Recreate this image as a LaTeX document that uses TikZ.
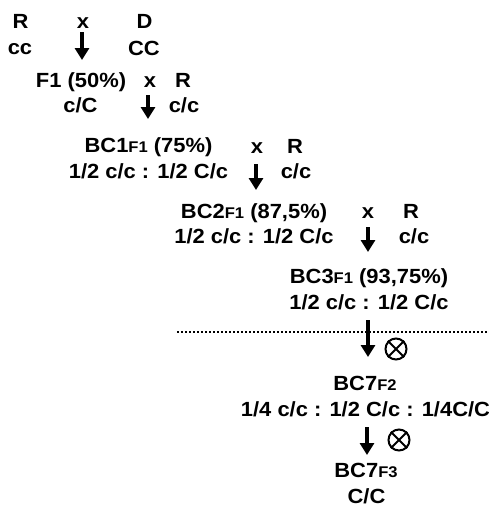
\documentclass[tikz,border=0pt]{standalone}
\usepackage{fontspec}
\setmainfont{Liberation Sans}[FakeStretch=1.07]
\usetikzlibrary{arrows.meta}
\newcommand{\subf}[1]{{\fontsize{15.5}{18}\selectfont #1}}
\tikzset{
  lbl/.style={inner sep=0pt, anchor=base, font=\bfseries\fontsize{20.5}{24}\selectfont},
  bigarrow/.style={line width=4.5pt, -{Triangle[width=14pt,length=12pt]}},
  crossing/.style={circle, draw, line width=2pt, minimum size=21pt, inner sep=0pt},
  sepline/.style={line width=1.6pt, dash pattern=on 1.6pt off 2.4pt}
}
\begin{document}
\begin{tikzpicture}[x=1pt,y=1pt]
\useasboundingbox (0,0) rectangle (489,-507);
% generation 0
\node[lbl] (rP) at (20.5,-28) {R};
\node[lbl] (rG) at (20,-54) {cc};
\node[lbl] (x1) at (83,-28) {x};
\node[lbl] (dP) at (144.5,-28) {D};
\node[lbl] (dG) at (144,-55) {CC};
% F1
\node[lbl] (f1) at (81,-87) {F1 (50\%)};
\node[lbl] (f1g) at (80.5,-112) {c/C};
\node[lbl] (x2) at (150,-87) {x};
\node[lbl] (r2) at (183,-87) {R};
\node[lbl] (r2g) at (184,-112) {c/c};
% BC1
\node[lbl] (bc1) at (148.5,-152.5) {BC1\subf{F1} (75\%)};
\node[lbl] (bc1g) at (148.5,-178) {1/2 c/c : 1/2 C/c};
\node[lbl] (x3) at (257,-153) {x};
\node[lbl] (r3) at (295,-153) {R};
\node[lbl] (r3g) at (296,-178) {c/c};
% BC2
\node[lbl] (bc2) at (254,-218) {BC2\subf{F1} (87,5\%)};
\node[lbl] (bc2g) at (254,-243) {1/2 c/c : 1/2 C/c};
\node[lbl] (x4) at (368,-218) {x};
\node[lbl] (r4) at (411,-218) {R};
\node[lbl] (r4g) at (414,-243) {c/c};
% BC3
\node[lbl] (bc3) at (369,-283) {BC3\subf{F1} (93,75\%)};
\node[lbl] (bc3g) at (369,-309) {1/2 c/c : 1/2 C/c};
% separator
\coordinate (sepL) at (177,-332);
\coordinate (sepR) at (489,-332);
\draw[sepline] (sepL) -- (sepR);
% BC7 F2
\node[lbl] (bc7) at (365,-390) {BC7\subf{F2}};
\node[lbl] (bc7g) at (365.5,-416) {1/4 c/c : 1/2 C/c : 1/4C/C};
% BC7 F3
\node[lbl] (bc7f) at (366,-477.5) {BC7\subf{F3}};
\node[lbl] (bc7fg) at (366.5,-503) {C/C};
% selfing symbols
\node[crossing] (ot1) at (396,-349) {};
\draw[line width=2pt] (ot1.north east) -- (ot1.south west) (ot1.north west) -- (ot1.south east);
\node[crossing] (ot2) at (399,-440) {};
\draw[line width=2pt] (ot2.north east) -- (ot2.south west) (ot2.north west) -- (ot2.south east);
% arrows
\coordinate (a1s) at (82,-32);  \coordinate (a1e) at (82,-60);
\coordinate (a2s) at (148,-95); \coordinate (a2e) at (148,-119);
\coordinate (a3s) at (256,-164); \coordinate (a3e) at (256,-190);
\coordinate (a4s) at (368,-227); \coordinate (a4e) at (368,-252);
\coordinate (a5s) at (368,-320); \coordinate (a5e) at (368,-357);
\coordinate (a6s) at (367,-427); \coordinate (a6e) at (367,-455);
\draw[bigarrow] (a1s) -- (a1e);
\draw[bigarrow] (a2s) -- (a2e);
\draw[bigarrow] (a3s) -- (a3e);
\draw[bigarrow] (a4s) -- (a4e);
\draw[bigarrow] (a5s) -- (a5e);
\draw[bigarrow] (a6s) -- (a6e);
\end{tikzpicture}
\end{document}
